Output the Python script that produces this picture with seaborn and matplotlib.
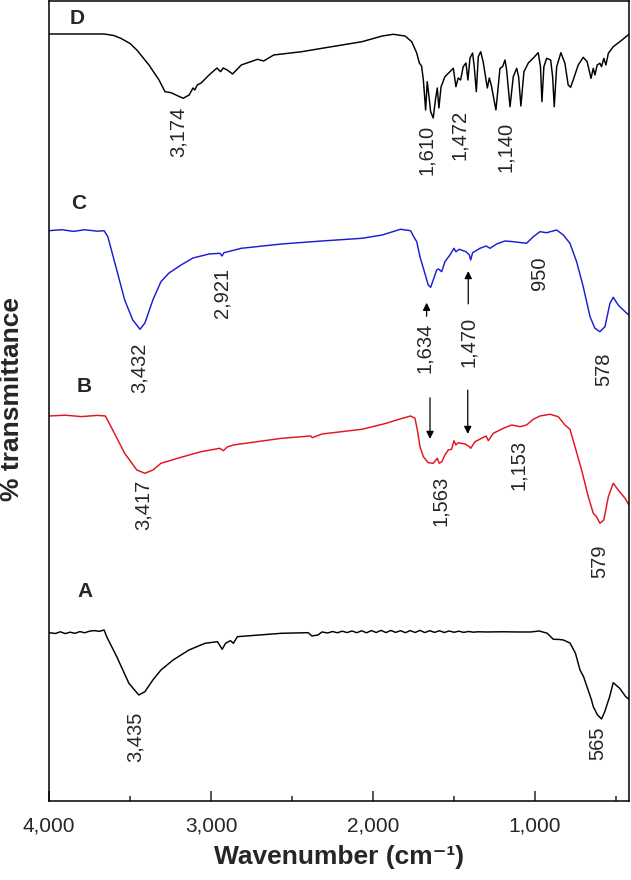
import numpy as np
import pandas as pd
import matplotlib
matplotlib.use('Agg')
import matplotlib.pyplot as plt
import seaborn as sns
from matplotlib.ticker import FixedLocator, FuncFormatter

# FTIR spectra (wavenumber, relative transmittance with offset)
wn_d = [4000, 3660, 3600, 3557, 3500, 3458, 3383, 3321, 3284, 3247, 3172, 3135, 3111, 3100, 3085, 3061,
        3012, 2963, 2941, 2925, 2900, 2867, 2813, 2713, 2675, 2613, 2440, 2315, 2191, 2068,
        1943, 1875, 1802, 1761, 1730, 1714, 1700, 1689, 1675, 1665, 1652, 1644, 1628, 1613,
        1603, 1593, 1580, 1556, 1525, 1504, 1488, 1474, 1459, 1443, 1426, 1414, 1401, 1385,
        1375, 1362, 1350, 1335, 1320, 1302, 1294, 1282, 1270, 1241, 1216, 1200, 1185, 1175,
        1154, 1134, 1113, 1101, 1087, 1068, 1041, 1010, 980, 966, 957, 945, 928, 903, 891,
        881, 866, 840, 815, 795, 780, 764, 733, 702, 678, 654, 640, 630, 616, 599, 589, 575,
        562, 547, 517, 476, 420]
t_d = [767, 767, 765.5, 762.7, 757.5, 751, 736, 721, 709.3, 708.3, 702.7, 706, 713, 711, 716, 718,
       726, 733, 729.3, 733, 731, 727, 736, 741.7, 740, 746, 749.3, 752.7, 756, 759.3,
       765, 766.7, 765, 759.3, 748, 738, 735, 721, 691, 719.3, 701, 689.3, 683, 703,
       713, 693, 714, 724.3, 729.3, 732.7, 714.3, 723, 721, 734.3, 738, 721, 743, 748,
       734.3, 709.3, 744.3, 749.3, 739.3, 721, 713, 723, 716, 691, 732.7, 734.3, 741, 731,
       694.3, 724.3, 732.7, 724.3, 695, 729.3, 738, 743, 748.3, 734.3, 699.3, 734.3, 742.7, 741, 724.3,
       694.3, 734.3, 748.3, 737.7, 716, 713.7, 721, 736, 743.7, 739.3, 722.7, 732.7, 726, 736, 737.7, 734.3, 742.7,
       736, 747.7, 754.3, 759.3, 766.7]

wn_c = [4000, 3920, 3850, 3780, 3700, 3660, 3637, 3582, 3533, 3483, 3438, 3408, 3359, 3309,
        3259, 3185, 3111, 3012, 2945, 2932, 2920, 2812, 2564, 2315, 2068, 1943, 1831, 1768,
        1744, 1730, 1710, 1689, 1659, 1644, 1628, 1607, 1595, 1576, 1556, 1525, 1500, 1488,
        1467, 1426, 1405, 1397, 1385, 1339, 1302, 1277, 1237, 1185, 1134, 1052, 1010, 969,
        928, 866, 825, 784, 743, 702, 660, 630, 599, 568, 537, 517, 486, 444, 420]
t_c = [570.3, 571.3, 569.6, 571.2, 569.8, 570.3, 564.3, 531, 501, 481, 471.7, 478, 501, 519.3,
       528, 536, 543, 547, 547.7, 545, 548.3, 552.7, 557, 560, 562.7, 566, 571.7, 570.3,
       563, 559.3, 544.3, 532.7, 516, 513.7, 521, 531, 532, 529.3, 539.3, 546, 552.7, 549.3,
       551.7, 549.3, 546, 541, 548.3, 552.7, 555, 552.7, 557, 560, 559.3, 557.7, 564.3, 569.3,
       568.3, 571, 566, 557.7, 539.3, 514.3, 484.3, 472.7, 469.3, 474.3, 497.7, 503.7, 496, 489.3, 486]

wn_b = [4000, 3900, 3800, 3700, 3652, 3607, 3533, 3458, 3408, 3358, 3309, 3185, 3061, 2945,
        2924, 2900, 2862, 2564, 2385, 2375, 2315, 2068, 1918, 1854, 1768, 1741, 1726, 1710,
        1689, 1659, 1628, 1603, 1591, 1575, 1556, 1535, 1515, 1500, 1488, 1474, 1432, 1405,
        1397, 1370, 1329, 1302, 1288, 1257, 1195, 1144, 1092, 1052, 1010, 969, 907, 856, 815,
        784, 753, 712, 671, 640, 620, 599, 575, 547, 517, 486, 444, 420]
t_b = [385, 385.8, 384.4, 385.6, 385, 371, 347.7, 331, 327.7, 331, 337.7, 343.7, 349.3, 352.7,
       350.3, 354, 356, 362.7, 365, 363.3, 367, 371.7, 377.7, 381, 385, 382.7, 371, 354.3,
       344.3, 338.3, 337.7, 342.7, 337.7, 339.3, 346, 351, 351.7, 360.3, 356, 358.3, 357, 354.3,
       352.7, 359.3, 362.7, 365, 360.3, 367.7, 372.7, 376, 374.3, 376, 381.7, 385, 386.7, 384.3, 376,
       371.7, 354.3, 331, 304.3, 287.7, 284.3, 277.7, 281, 304.3, 317.7, 311, 302.7, 296]

wn_a = [4000, 3960, 3930, 3900, 3870, 3840, 3810, 3780, 3750, 3720, 3690, 3660, 3644, 3582,
        3507, 3446, 3408, 3359, 3309, 3234, 3136, 3037, 2960, 2931, 2910, 2880, 2862, 2837,
        2564, 2400, 2377, 2340, 2315, 2280, 2250, 2220, 2190, 2160, 2130, 2100, 2070, 2040,
        2010, 1980, 1950, 1920, 1890, 1860, 1830, 1800, 1770, 1740, 1710, 1680, 1650, 1620,
        1590, 1560, 1530, 1500, 1470, 1440, 1410, 1380, 1350, 1300, 1200, 1100, 1025, 974,
        924, 887, 850, 825, 784, 750, 722, 700, 651, 640, 614, 589, 570, 539, 517, 477, 440, 415]
t_a = [168.3, 167.5, 169.2, 167.4, 168.8, 167.6, 169.4, 168.2, 169.8, 170.4, 169.6, 171, 164.3, 144.3,
       117.7, 106, 109.3, 121, 131, 141, 151, 157.7, 159.3, 151.7, 157.7, 160.3, 157.7, 164.3,
       167.7, 168.3, 165, 166, 169, 168, 169.5, 168.2, 169.8, 168.4, 170, 168.3, 170.2, 168.2,
       170.4, 168.5, 170.6, 168.4, 170.5, 168.6, 170.3, 168.3, 170.4, 168.5, 170.6, 168.4, 170.3, 168.6,
       170.2, 168.5, 170, 168.7, 169.8, 168.6, 169.5, 168.8, 169.2, 169, 169.2, 169, 169, 170,
       167.7, 161.7, 161.5, 161, 158, 147.7, 131, 124.3, 101, 94.3, 86, 82, 89, 104.3, 118.3, 112.7, 104.3, 101]

curve_names = ['D', 'C', 'B', 'A']
curve_colors = ['black', '#1c1cd6', '#e3141c', 'black']

frames = []
for name, w, t in [('D', wn_d, t_d), ('C', wn_c, t_c), ('B', wn_b, t_b), ('A', wn_a, t_a)]:
    frames.append(pd.DataFrame({'wavenumber': w, 'transmittance': t, 'sample': name}))
df = pd.concat(frames, ignore_index=True)

# peak labels: (text, wavenumber, top of text)
peak_labels = [('3,174', 3204, 694), ('1,610', 1669, 676), ('1,472', 1463, 691), ('1,140', 1185, 679),
               ('3,432', 3446, 458), ('2,921', 2932, 533), ('1,634', 1682, 478), ('1,470', 1409, 484),
               ('950', 975, 544), ('578', 576, 448),
               ('3,417', 3420, 321), ('1,563', 1583, 325), ('1,153', 1099, 361), ('579', 602, 256),
               ('3,435', 3470, 89), ('565', 614, 74)]
letter_pos = [('D', 3824, 782), ('C', 3818, 597), ('B', 3784, 414.5), ('A', 3775, 209.5)]
arrows = [(1669, 482, 501), (1412, 494.3, 532.7), (1648, 406, 359.3), (1415, 413.7, 364.3)]

sns.set_style('white')
plt.rcParams['font.family'] = ['Liberation Sans', 'DejaVu Sans']

fig = plt.figure(figsize=(6.31, 8.8), dpi=100)
ax = fig.add_axes([0.0777, 0.0898, 0.919, 0.9085])

sns.lineplot(data=df, x='wavenumber', y='transmittance', hue='sample', hue_order=curve_names,
             palette=curve_colors, sort=False, estimator=None, lw=1.05, legend=False, ax=ax)

for txt, x, y in peak_labels:
    ax.text(x, y, txt, rotation=90, ha='center', va='top', fontsize=14.5)
for txt, x, y in letter_pos:
    ax.text(x, y, txt, ha='center', va='center', fontsize=15, fontweight='bold')
for x, y0, y1 in arrows:
    ax.annotate('', xy=(x, y1), xytext=(x, y0),
                arrowprops=dict(arrowstyle='-|>', color='black', lw=0.9, mutation_scale=11))

ax.set_xlim(4000, 420)
ax.set_ylim(0, 799.5)
ax.xaxis.set_major_locator(FixedLocator([4000, 3000, 2000, 1000]))
ax.xaxis.set_minor_locator(FixedLocator([3500, 2500, 1500, 500]))
ax.xaxis.set_major_formatter(FuncFormatter(lambda v, p: f'{v:,.0f}'))
ax.tick_params(axis='x', which='major', direction='in', length=7, width=1.1, labelsize=15, pad=11,
               bottom=True)
ax.tick_params(axis='x', which='minor', direction='in', length=3.6, width=1.1, bottom=True)
ax.set_yticks([])
for s in ax.spines.values():
    s.set_linewidth(1.1)
    s.set_color('black')

ax.set_xlabel('Wavenumber (cm⁻¹)', fontsize=19, fontweight='bold', labelpad=7)
ax.set_ylabel('')
fig.text(0.0198, 0.5466, '% transmittance', rotation=90, ha='center', va='center',
         fontsize=19, fontweight='bold')

fig.savefig('out.png', dpi=100)
